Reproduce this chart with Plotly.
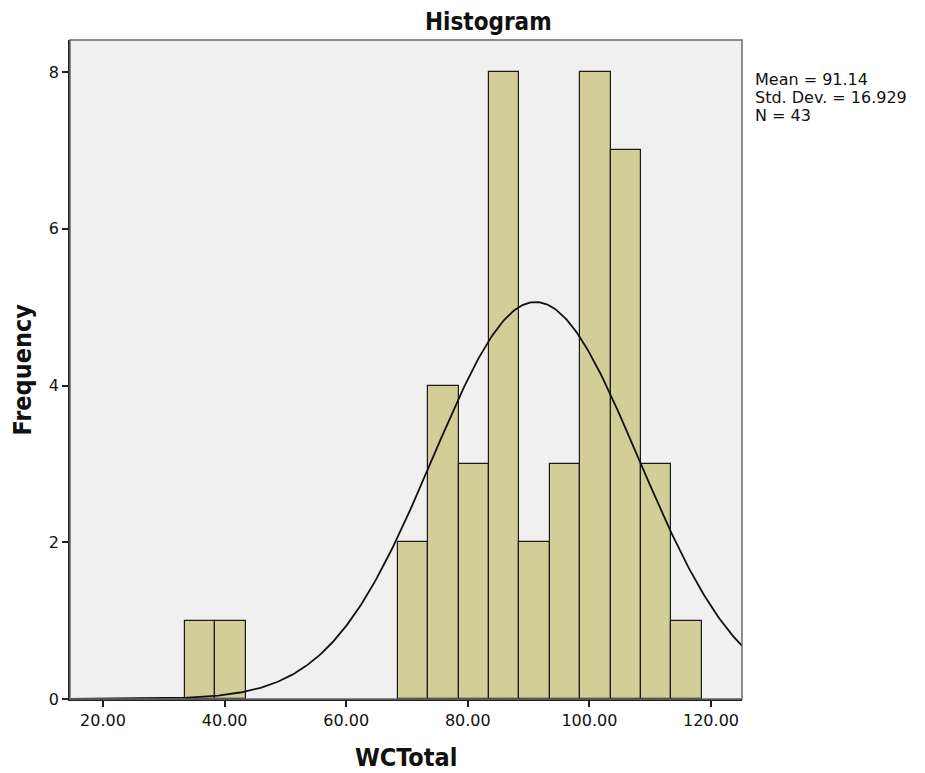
import numpy as np
import plotly.graph_objects as go

# Data
bin_starts = [33.5, 38.5, 68.5, 73.5, 78.5, 83.5, 88.5, 93.5, 98.5, 103.5, 108.5, 113.5]
frequencies = [1, 1, 2, 4, 3, 8, 2, 3, 8, 7, 3, 1]
bin_width = 5.0
mean_val = 91.14
std_val = 16.929
n_val = 43
x_tick_vals = [20, 40, 60, 80, 100, 120]
x_tick_text = ["20.00", "40.00", "60.00", "80.00", "100.00", "120.00"]
y_tick_vals = [0, 2, 4, 6, 8]
stats_lines = ["Mean = 91.14", "Std. Dev. = 16.929", "N = 43"]

x_range = [14.57, 125.1]
y_range = [0, 8.41]

centers = [s + bin_width / 2 for s in bin_starts]

# fitted normal curve from the stated statistics
xc = np.linspace(x_range[0], x_range[1], 400)
yc = n_val * bin_width * np.exp(-0.5 * ((xc - mean_val) / std_val) ** 2) / (std_val * np.sqrt(2 * np.pi))

TITLE_FONT = "Liberation Sans Narrow, DejaVu Sans Condensed, Arial Narrow, sans-serif"
TICK_FONT = "DejaVu Sans, Verdana, sans-serif"

fig = go.Figure()
fig.add_trace(go.Bar(
    x=centers, y=frequencies, width=[bin_width] * len(centers),
    marker=dict(color="#d3ce98", line=dict(color="#1a1a1a", width=1.2)),
    showlegend=False, hoverinfo="x+y",
))
fig.add_trace(go.Scatter(
    x=xc, y=yc, mode="lines", line=dict(color="#111111", width=1.8),
    showlegend=False, hoverinfo="skip",
))

annotations = [
    dict(text="<b>Histogram</b>", xref="paper", yref="paper", x=0.6235, y=1,
         yshift=18, showarrow=False, font=dict(family=TITLE_FONT, size=24),
         xanchor="center", yanchor="middle"),
    dict(text="<b>WCTotal</b>", xref="paper", yref="paper", x=0.5, y=0,
         yshift=-58, showarrow=False, font=dict(family=TITLE_FONT, size=25),
         xanchor="center", yanchor="middle"),
    dict(text="<b>Frequency</b>", xref="paper", yref="paper", x=0, y=0.5,
         xshift=-48, textangle=-90, showarrow=False, font=dict(family=TITLE_FONT, size=25),
         xanchor="center", yanchor="middle"),
]
for i, line in enumerate(stats_lines):
    annotations.append(dict(
        text=line, xref="paper", yref="paper", x=1, y=1, xshift=11, yshift=-39 - 18 * i,
        showarrow=False, align="left", xanchor="left", yanchor="middle",
        font=dict(family=TICK_FONT, size=16),
    ))

fig.update_layout(
    width=925, height=773,
    margin=dict(l=62, r=191, t=32, b=82),
    paper_bgcolor="white", plot_bgcolor="#f0f0f0",
    font=dict(family=TICK_FONT, size=15, color="#111111"),
    bargap=0,
    xaxis=dict(
        range=x_range, tickvals=x_tick_vals, ticktext=x_tick_text,
        ticks="outside", ticklen=6, tickwidth=1.5, tickcolor="#222",
        showline=True, linecolor="#222", linewidth=1.5, showgrid=False, zeroline=False,
        tickfont=dict(size=16), automargin=False,
    ),
    yaxis=dict(
        range=y_range, tickvals=y_tick_vals,
        ticks="outside", ticklen=6, tickwidth=1.5, tickcolor="#222",
        showline=True, linecolor="#222", linewidth=1.5, showgrid=False, zeroline=False,
        tickfont=dict(size=16), automargin=False,
    ),
    shapes=[dict(type="rect", xref="paper", yref="paper", x0=0, x1=1, y0=0, y1=1,
                 line=dict(color="#6a6a6a", width=1.5), layer="above")],
    annotations=annotations,
)

fig.write_html("out.html")
